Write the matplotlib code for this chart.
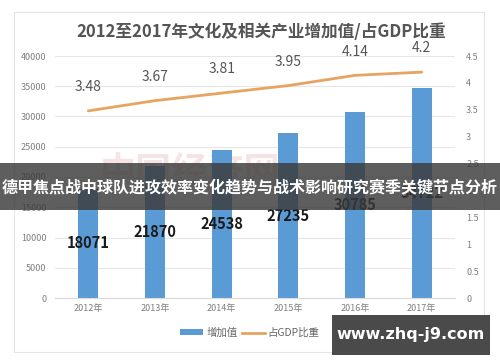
import matplotlib
matplotlib.use("Agg")
import matplotlib.pyplot as plt
from matplotlib.patches import Rectangle
from matplotlib.lines import Line2D
from matplotlib.patches import Patch

plt.rcParams['font.family'] = ['Microsoft YaHei', 'Noto Sans CJK SC', 'DejaVu Sans']

years = ['2012年', '2013年', '2014年', '2015年', '2016年', '2017年']
added_value = [18071, 21870, 24538, 27235, 30785, 34722]
gdp_share = [3.48, 3.67, 3.81, 3.95, 4.14, 4.2]
left_ticks = [0, 5000, 10000, 15000, 20000, 25000, 30000, 35000, 40000]
right_ticks = [0, 0.5, 1, 1.5, 2, 2.5, 3, 3.5, 4, 4.5]
right_tick_labels = ['0', '0.5', '1', '1.5', '2', '2.5', '3', '3.5', '4', '4.5']

W, H = 500, 362
fig = plt.figure(figsize=(W / 100, H / 100), dpi=100)
fig.patch.set_facecolor('white')

# chart frame
fig.patches.append(Rectangle((14 / W, 1 - 352 / H), (484 - 14) / W, (352 - 12) / H,
                             transform=fig.transFigure, facecolor='white',
                             edgecolor='#e4e4e4', lw=0.8, zorder=-5))

# faint background watermark
fig.text(190 / W, 1 - 172 / H, '中国经济网', ha='center', va='center', fontsize=26,
         color='#e8b0b0', alpha=0.35, fontweight='bold', zorder=-1)

ax = fig.add_axes([55 / W, 1 - 298 / H, 400 / W, (298 - 56) / H])
ax.set_facecolor('none')
x = list(range(len(years)))
bars = ax.bar(x, added_value, width=0.3, color='#5b9bd5', zorder=2)
ax.set_xlim(-0.5, 5.5)
ax.set_ylim(0, 40000)
ax.set_yticks(left_ticks)
ax.set_yticklabels([str(t) for t in left_ticks])
ax.grid(axis='y', color='#e6e6e6', lw=0.8, zorder=0)
ax.set_axisbelow(True)
for s in ax.spines.values():
    s.set_visible(False)
ax.spines['bottom'].set_visible(True)
ax.spines['bottom'].set_color('#d9d9d9')
ax.tick_params(axis='both', length=0, colors='#7f7f7f', labelsize=6.5)
ax.tick_params(axis='y', pad=6)
ax.set_xticks(x)
ax.set_xticklabels(years)
ax.tick_params(axis='x', pad=4)

for xi, v in zip(x, added_value):
    ax.text(xi, v / 2, str(v), ha='center', va='center', fontsize=10.5,
            fontweight='bold', color='#1a1a1a', zorder=4)

ax2 = ax.twinx()
ax2.set_ylim(0, 4.5)
ax2.set_yticks(right_ticks)
ax2.set_yticklabels(right_tick_labels)
for s in ax2.spines.values():
    s.set_visible(False)
ax2.tick_params(axis='y', length=0, colors='#7f7f7f', labelsize=6.5, pad=8)
ax2.plot(x, gdp_share, color='#e6a460', lw=2.0, zorder=3, solid_capstyle='round')
for xi, v in zip(x, gdp_share):
    ax2.annotate(f'{v}', (xi, v), xytext=(0, 12), textcoords='offset points',
                 ha='center', va='bottom', fontsize=10, color='#555555',
                 annotation_clip=False)

# title
fig.text(261 / W, 1 - 32 / H, '2012至2017年文化及相关产业增加值/占GDP比重',
         ha='center', va='center', fontsize=12, fontweight='bold', color='#555555')

# legend
handles = [Patch(facecolor='#5b9bd5', edgecolor='none'),
           Line2D([0], [0], color='#e6a460', lw=2)]
leg = fig.legend(handles, ['增加值', '占GDP比重'], loc='center',
                 bbox_to_anchor=(250 / W, 1 - 333 / H), ncol=2, frameon=False,
                 fontsize=7.5, handlelength=2.2, handleheight=0.5,
                 columnspacing=0.4, handletextpad=0.3)
for t in leg.get_texts():
    t.set_color('#666666')

# overlay banner
fig.patches.append(Rectangle((0, 1 - 210 / H), 1, 47 / H, transform=fig.transFigure,
                             facecolor='#3a3a3a', alpha=0.82, edgecolor='none', zorder=10))
fig.text(250 / W, 1 - 187 / H, '德甲焦点战中球队进攻效率变化趋势与战术影响研究赛季关键节点分析',
         ha='center', va='center', fontsize=11.5, fontweight='bold', color='white', zorder=11,
         family=['Noto Sans CJK SC', 'DejaVu Sans'])

# site badge
fig.patches.append(Rectangle((332 / W, 1 - 355 / H), 158 / W, 40 / H, transform=fig.transFigure,
                             facecolor='#4a4a4a', edgecolor='none', zorder=10))
fig.text(411 / W, 1 - 335 / H, 'www.zhq-j9.com', ha='center', va='center', fontsize=11.5,
         fontweight='bold', color='white', zorder=11, family=['DejaVu Sans'])

fig.savefig('out.png', dpi=100)
